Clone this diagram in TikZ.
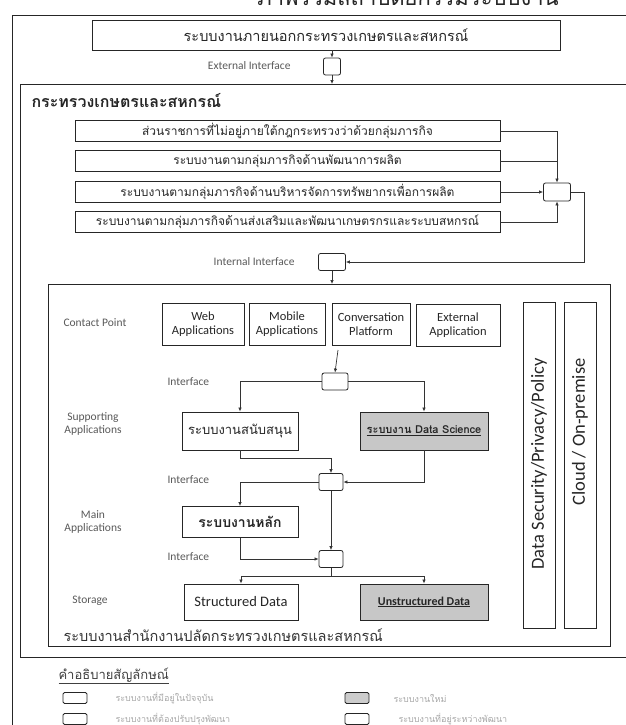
\documentclass[tikz,border=0pt]{standalone}
\usepackage{fontspec}
\setmainfont{Carlito}
\newfontfamily\thaifont[Script=Thai]{Loma}
\usetikzlibrary{arrows.meta}
\tikzset{
  box/.style={draw=black!85, line width=0.9pt, inner sep=1pt, align=center, text=black!85},
  graybox/.style={box, fill=black!22},
  ibox/.style={draw=black!85, line width=0.8pt, rounded corners=2pt, minimum width=25pt, minimum height=17pt, inner sep=0pt},
  conn/.style={draw=black!80, line width=0.7pt},
  arr/.style={conn, -{Latex[length=4pt,width=3.5pt]}},
  lbl/.style={font=\fontsize{11.5}{12.5}\selectfont, text=black!65, align=center},
  thbox/.style={font=\thaifont\fontsize{12}{13}\selectfont},
  enbox/.style={font=\fontsize{12.5}{13.5}\selectfont},
  frame/.style={draw=black!85, line width=0.9pt},
  legbox/.style={draw=black!85, line width=0.9pt, rounded corners=1.5pt, minimum width=24pt, minimum height=11pt, inner sep=0pt},
  legtxt/.style={font=\thaifont\fontsize{9}{10}\selectfont, text=black!35, anchor=west}
}
\begin{document}
\begin{tikzpicture}[x=1pt,y=-1pt]
\useasboundingbox (0,0) rectangle (626,725);
% clipped title
\node[font=\thaifont\fontsize{22}{24}\selectfont, anchor=base, text=black!85] (title) at (408,6) {ภาพรวมสถาปัตยกรรมระบบงาน};
% outer frame
\draw[frame] (640,15) -- (12,15) -- (12,740);
% top external box
\node[box, font=\thaifont\fontsize{14.5}{16}\selectfont, minimum width=468pt, minimum height=30pt] (ext) at (326,35) {ระบบงานภายนอกกระทรวงเกษตรและสหกรณ์};
\node[ibox, minimum width=17pt] (extif) at (332,66.5) {};
\node[lbl, anchor=east] (extlbl) at (294,66) {External Interface};
\coordinate (mtop) at (332,84);
\draw[arr] (ext.south -| extif) -- (extif.north);
\draw[arr] (extif.south) -- (mtop);
% ministry frame
\draw[frame] (640,84) -- (20,84) -- (20,657) -- (640,657);
\node[font=\thaifont\bfseries\fontsize{16}{18}\selectfont, anchor=west, text=black!85] (moac) at (28,101) {กระทรวงเกษตรและสหกรณ์};
% four department boxes
\node[box, thbox, minimum width=425pt, minimum height=21pt] (b1) at (287.5,131) {ส่วนราชการที่ไม่อยู่ภายใต้กฎกระทรวงว่าด้วยกลุ่มภารกิจ};
\node[box, thbox, minimum width=425pt, minimum height=21pt] (b2) at (287.5,161) {ระบบงานตามกลุ่มภารกิจด้านพัฒนาการผลิต};
\node[box, thbox, minimum width=425pt, minimum height=21pt] (b3) at (287.5,192) {ระบบงานตามกลุ่มภารกิจด้านบริหารจัดการทรัพยากรเพื่อการผลิต};
\node[box, thbox, minimum width=425pt, minimum height=21pt] (b4) at (287.5,222) {ระบบงานตามกลุ่มภารกิจด้านส่งเสริมและพัฒนาเกษตรกรและระบบสหกรณ์};
\node[ibox, minimum width=27pt, minimum height=18pt] (jn) at (557,192) {};
\draw[arr] (b1.east) -| (jn.north);
\draw[conn] (b2.east) -- (b2.east -| jn);
\draw[arr] (b3.east) -- (jn.west);
\draw[arr] (b4.east) -| (jn.south);
% internal interface
\node[ibox, minimum width=27pt] (intif) at (332,262) {};
\node[lbl, anchor=east] (intlbl) at (298,262) {Internal Interface};
\coordinate (loop) at (584,192);
\draw[arr] (jn.east) -- (loop) |- (intif.east);
\coordinate (itop) at (332,284);
\draw[arr] (intif.south) -- (itop);
% inner frame
\draw[frame] (48,284) rectangle (610,646);
% contact points
\node[lbl, anchor=west] (cplbl) at (60,323) {Contact Point};
\node[box, enbox, minimum width=82pt, minimum height=42pt] (web) at (203,324) {Web\\Applications};
\node[box, enbox, minimum width=76pt, minimum height=42pt] (mob) at (287,324) {Mobile\\Applications};
\node[box, enbox, minimum width=78pt, minimum height=42pt] (conv) at (371,324) {Conversation\\Platform};
\node[box, enbox, minimum width=84pt, minimum height=42pt] (extapp) at (458,325) {External\\Application};
% side columns
\node[box, minimum width=32pt, minimum height=326pt] (sec) at (539,465) {};
\node[box, minimum width=32pt, minimum height=326pt] (cloud) at (580,465) {};
\node[font=\fontsize{18.5}{19}\selectfont, rotate=90, text=black!85] (sectxt) at (539,464) {Data Security/Privacy/Policy};
\node[font=\fontsize{18.5}{19}\selectfont, rotate=90, text=black!85] (cloudtxt) at (580,432) {Cloud / On-premise};
% interface 1
\node[ibox, minimum width=26pt] (if1) at (335,381.5) {};
\node[lbl, anchor=west] (if1lbl) at (164,382) {Interface};
\coordinate (sa) at (338,350);
\draw[arr] (sa) -- (if1.north);
% supporting
\node[lbl] (suplbl) at (93,424) {Supporting\\Applications};
\node[box, thbox, font=\thaifont\fontsize{13}{14}\selectfont, minimum width=116pt, minimum height=38pt] (sup) at (240,431) {ระบบงานสนับสนุน};
\node[graybox, font=\thaifont\bfseries\fontsize{11}{12}\selectfont, minimum width=128pt, minimum height=38pt] (ds) at (424,431) {\underline{ระบบงาน Data Science}};
\draw[arr] (if1.west) -| (sup.north);
\draw[arr] (if1.east) -| (ds.north);
% interface 2
\node[ibox, minimum width=24pt] (if2) at (331,482) {};
\node[lbl, anchor=west] (if2lbl) at (164,480) {Interface};
\draw[arr] (sup.south) -- ++(0,8) -| (if2.north);
\draw[arr] (ds.south) |- (if2.east);
% main
\node[lbl] (mainlbl) at (93,522) {Main\\Applications};
\node[box, font=\thaifont\bfseries\fontsize{14}{15}\selectfont, minimum width=116pt, minimum height=31pt] (main) at (240,522) {ระบบงานหลัก};
\draw[arr] (if2.west) -| (main.north);
% interface 3
\node[ibox, minimum width=24pt] (if3) at (331,559) {};
\node[lbl, anchor=west] (if3lbl) at (164,557) {Interface};
\draw[arr] (if2.south) -- (if3.north);
\draw[arr] (main.south) |- (if3.west);
% storage
\node[lbl] (stlbl) at (90,601) {Storage};
\node[box, font=\fontsize{14.5}{15}\selectfont, minimum width=114pt, minimum height=36pt] (sd) at (241,602) {Structured Data};
\node[graybox, font=\bfseries\fontsize{12}{13}\selectfont, minimum width=128pt, minimum height=36pt] (ud) at (424,602) {\underline{Unstructured Data}};
\coordinate (split) at (331,576);
\draw[conn] (if3.south) -- (split);
\draw[arr] (split) -| (sd.north);
\draw[arr] (split) -| (ud.north);
\node[font=\thaifont\fontsize{14.5}{16}\selectfont, anchor=west, text=black!80] (cap) at (60,635) {ระบบงานสำนักงานปลัดกระทรวงเกษตรและสหกรณ์};
% legend
\node[font=\thaifont\fontsize{13}{14}\selectfont, anchor=west, text=black!75] (legt) at (55,676) {\underline{คำอธิบายสัญลักษณ์}};
\node[legbox] (l1) at (75,698) {};
\node[legbox] (l2) at (75,719) {};
\node[legbox, fill=black!20] (l3) at (357,698) {};
\node[legbox] (l4) at (357,719) {};
\node[legtxt] (t1) at (112,698) {ระบบงานที่มีอยู่ในปัจจุบัน};
\node[legtxt] (t2) at (112,719) {ระบบงานที่ต้องปรับปรุงพัฒนา};
\node[legtxt] (t3) at (390,698) {ระบบงานใหม่};
\node[legtxt] (t4) at (395,719) {ระบบงานที่อยู่ระหว่างพัฒนา};
\end{tikzpicture}
\end{document}
